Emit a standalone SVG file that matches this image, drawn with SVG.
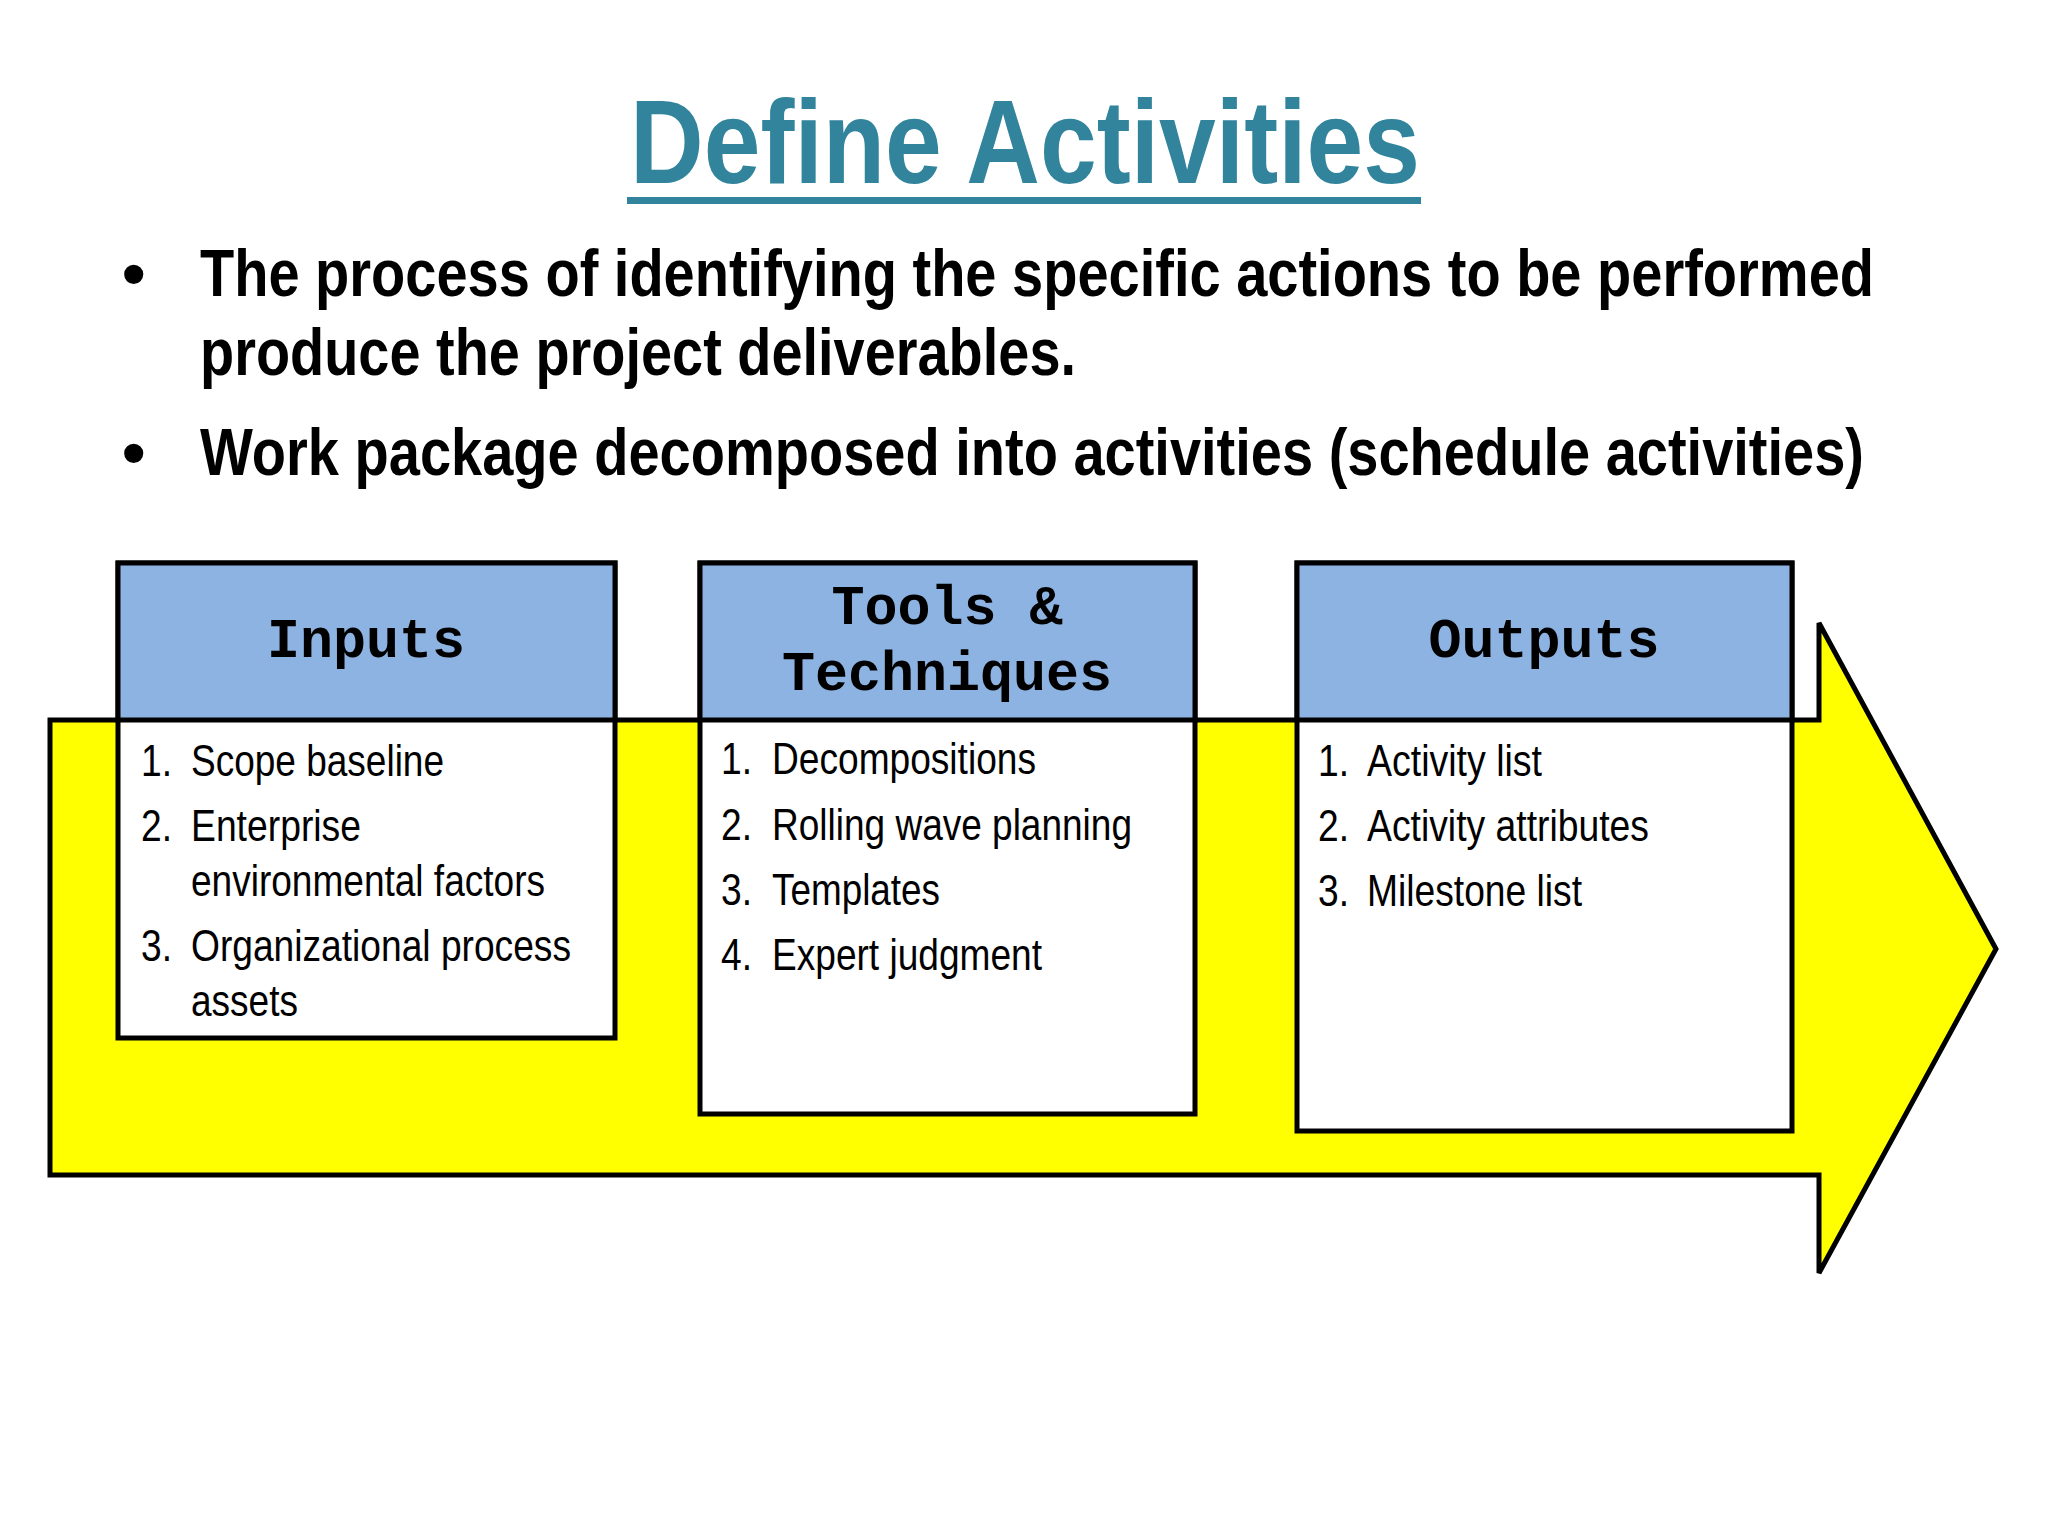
<svg xmlns="http://www.w3.org/2000/svg" width="2048" height="1536" viewBox="0 0 2048 1536">
<style>
.title{font-family:"Liberation Sans",Arial,sans-serif;font-weight:bold;font-size:118px;fill:#31849B}
.bul{font-family:"Liberation Sans",Arial,sans-serif;font-weight:bold;font-size:67px;fill:#000}
.hdr{font-family:"Liberation Mono","Courier New",monospace;font-weight:bold;font-size:55px;fill:#000}
.item{font-family:"Liberation Sans",Arial,sans-serif;font-size:44px;fill:#000}
.box{fill:#fff;stroke:#000;stroke-width:5}
.head{fill:#8DB3E2;stroke:#000;stroke-width:5}
.arrow{fill:#FFFF00;stroke:#000;stroke-width:5;stroke-linejoin:miter}
</style>
<rect width="2048" height="1536" fill="#fff"/>
<g id="title">
<text class="title" x="630" y="183" textLength="790" lengthAdjust="spacingAndGlyphs">Define Activities</text>
<rect x="627" y="197" width="794" height="7" fill="#31849B"/>
</g>
<g id="bullets">
<text class="bul" x="122" y="296">•</text>
<text class="bul" x="200" y="296" textLength="1674" lengthAdjust="spacingAndGlyphs">The process of identifying the specific actions to be performed</text>
<text class="bul" x="200" y="375" textLength="876" lengthAdjust="spacingAndGlyphs">produce the project deliverables.</text>
<text class="bul" x="122" y="475">•</text>
<text class="bul" x="200" y="475" textLength="1664" lengthAdjust="spacingAndGlyphs">Work package decomposed into activities (schedule activities)</text>
</g>
<g id="connectors">
<path class="arrow" d="M50 720 H1819 V623 L1996 949 L1819 1273 V1175 H50 Z"/>
</g>
<g id="inputs">
<rect class="box" x="118" y="563" width="497" height="475"/>
<rect class="head" x="118" y="563" width="497" height="157"/>
<text class="hdr" x="366" y="657" text-anchor="middle">Inputs</text>
<text class="item" x="141" y="776" textLength="31" lengthAdjust="spacingAndGlyphs">1.</text>
<text class="item" x="191" y="776" textLength="253" lengthAdjust="spacingAndGlyphs">Scope baseline</text>
<text class="item" x="141" y="841" textLength="31" lengthAdjust="spacingAndGlyphs">2.</text>
<text class="item" x="191" y="841" textLength="170" lengthAdjust="spacingAndGlyphs">Enterprise</text>
<text class="item" x="191" y="896" textLength="354" lengthAdjust="spacingAndGlyphs">environmental factors</text>
<text class="item" x="141" y="961" textLength="31" lengthAdjust="spacingAndGlyphs">3.</text>
<text class="item" x="191" y="961" textLength="380" lengthAdjust="spacingAndGlyphs">Organizational process</text>
<text class="item" x="191" y="1016" textLength="107" lengthAdjust="spacingAndGlyphs">assets</text>
</g>
<g id="tools">
<rect class="box" x="700" y="563" width="495" height="551"/>
<rect class="head" x="700" y="563" width="495" height="157"/>
<text class="hdr" x="947" y="624" text-anchor="middle" xml:space="preserve">Tools &amp;</text>
<text class="hdr" x="947" y="690" text-anchor="middle">Techniques</text>
<text class="item" x="721" y="774" textLength="31" lengthAdjust="spacingAndGlyphs">1.</text>
<text class="item" x="772" y="774" textLength="264" lengthAdjust="spacingAndGlyphs">Decompositions</text>
<text class="item" x="721" y="840" textLength="31" lengthAdjust="spacingAndGlyphs">2.</text>
<text class="item" x="772" y="840" textLength="360" lengthAdjust="spacingAndGlyphs">Rolling wave planning</text>
<text class="item" x="721" y="905" textLength="31" lengthAdjust="spacingAndGlyphs">3.</text>
<text class="item" x="772" y="905" textLength="168" lengthAdjust="spacingAndGlyphs">Templates</text>
<text class="item" x="721" y="970" textLength="31" lengthAdjust="spacingAndGlyphs">4.</text>
<text class="item" x="772" y="970" textLength="270" lengthAdjust="spacingAndGlyphs">Expert judgment</text>
</g>
<g id="outputs">
<rect class="box" x="1297" y="563" width="495" height="568"/>
<rect class="head" x="1297" y="563" width="495" height="157"/>
<text class="hdr" x="1544" y="657" text-anchor="middle">Outputs</text>
<text class="item" x="1318" y="776" textLength="31" lengthAdjust="spacingAndGlyphs">1.</text>
<text class="item" x="1367" y="776" textLength="175" lengthAdjust="spacingAndGlyphs">Activity list</text>
<text class="item" x="1318" y="841" textLength="31" lengthAdjust="spacingAndGlyphs">2.</text>
<text class="item" x="1367" y="841" textLength="282" lengthAdjust="spacingAndGlyphs">Activity attributes</text>
<text class="item" x="1318" y="906" textLength="31" lengthAdjust="spacingAndGlyphs">3.</text>
<text class="item" x="1367" y="906" textLength="215" lengthAdjust="spacingAndGlyphs">Milestone list</text>
</g>
</svg>
